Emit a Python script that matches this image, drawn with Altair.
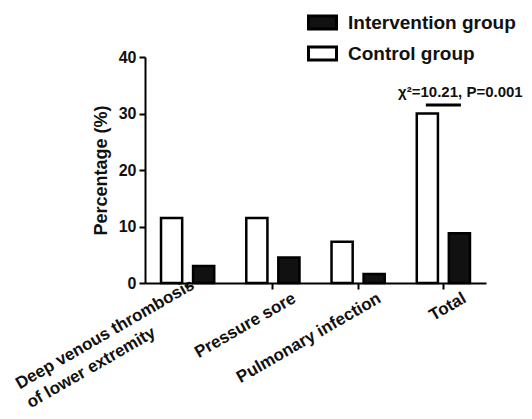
import altair as alt
import pandas as pd

categories = ["Deep venous thrombosis\nof lower extremity", "Pressure sore", "Pulmonary infection", "Total"]
groups = ["Control group", "Intervention group"]
legend_order = ["Intervention group", "Control group"]
control = [11.5, 11.5, 7.3, 30.0]
intervention = [3.0, 4.5, 1.6, 8.8]
y_ticks = [0, 10, 20, 30, 40]
stat_text = "χ²=10.21, P=0.001"
stat_category = "Total"
stat_line_y = 31.5
stat_text_y = 32.9

FONT = "Arial, 'Liberation Sans', sans-serif"

rows = []
for c, v in zip(categories, control):
    rows.append({"cat": c, "group": "Control group", "value": v})
for c, v in zip(categories, intervention):
    rows.append({"cat": c, "group": "Intervention group", "value": v})
df = pd.DataFrame(rows)

line_df = pd.DataFrame({"cat": [stat_category] * 2, "group": groups, "value": [stat_line_y] * 2})
text_df = pd.DataFrame({"cat": [stat_category], "group": ["Intervention group"], "value": [stat_text_y], "label": [stat_text]})

is_dvt = "substring(datum.value, 0, 4) == 'Deep'"

x_enc = alt.X(
    "cat:N",
    sort=categories,
    scale=alt.Scale(domain=categories, paddingInner=0, paddingOuter=0),
    axis=alt.Axis(
        title=None,
        labelAngle=-30,
        labelAlign={"condition": {"test": is_dvt, "value": "left"}, "value": "right"},
        labelBaseline="alphabetic",
        labelOffset={"condition": {"test": is_dvt, "value": -168}, "value": 24},
        labelPadding={"condition": {"test": is_dvt, "value": 100}, "value": 12},
        labelExpr="split(datum.label, '\\n')",
        labelFontSize=17,
        labelFontWeight="bold",
        labelColor="#111111",
        labelFont=FONT,
        labelLineHeight=22,
        labelLimit=400,
        labelOverlap=False,
        domainColor="black",
        domainWidth=2,
        tickColor="black",
        tickWidth=2,
        tickSize=6,
    ),
)
xoff_enc = alt.XOffset(
    "group:N",
    sort=groups,
    scale=alt.Scale(domain=groups, paddingInner=0.34, paddingOuter=0.5),
)
y_enc = alt.Y(
    "value:Q",
    scale=alt.Scale(domain=[0, 40], nice=False),
    axis=alt.Axis(
        values=y_ticks,
        title="Percentage (%)",
        titleFontSize=18,
        titleFontWeight="bold",
        titleFont=FONT,
        titleColor="#111111",
        titlePadding=8,
        labelFontSize=16,
        labelFontWeight="bold",
        labelFont=FONT,
        labelColor="#111111",
        labelPadding=3,
        domainColor="black",
        domainWidth=2,
        tickColor="black",
        tickWidth=2,
        tickSize=6,
        grid=False,
    ),
)

bars = alt.Chart(df).mark_bar(stroke="black", strokeWidth=2.5).encode(
    x=x_enc,
    xOffset=xoff_enc,
    y=y_enc,
    fill=alt.Fill(
        "group:N",
        scale=alt.Scale(domain=legend_order, range=["#111111", "white"]),
        legend=alt.Legend(
            title=None,
            orient="none",
            legendX=162,
            legendY=-50,
            symbolType="M-1,-0.47H1V0.47H-1Z",
            symbolSize=784,
            symbolStrokeColor="black",
            symbolStrokeWidth=3,
            labelFontSize=19,
            labelFontWeight="bold",
            labelFont=FONT,
            labelColor="#111111",
            labelOffset=10,
            rowPadding=2,
            labelLimit=300,
        ),
    ),
)

line = alt.Chart(line_df).mark_line(color="black", strokeWidth=3, strokeCap="square").encode(
    x=alt.X("cat:N", sort=categories),
    xOffset=alt.XOffset("group:N", sort=groups),
    y=alt.Y("value:Q"),
)

text = alt.Chart(text_df).mark_text(
    font=FONT, fontSize=15, fontWeight="bold", color="#111111", align="center", baseline="alphabetic", dx=1
).encode(
    x=alt.X("cat:N", sort=categories),
    xOffset=alt.XOffset("group:N", sort=groups),
    y=alt.Y("value:Q"),
    text="label:N",
)

chart = (
    alt.layer(bars, line, text)
    .properties(
        width=341,
        height=226,
        autosize=alt.AutoSizeParams(type="none"),
        padding={"left": 137, "top": 49, "right": 38, "bottom": 128},
        background="white",
    )
    .configure_view(stroke=None)
)

chart.save("out.html", embed_options={"renderer": "svg", "actions": False})
